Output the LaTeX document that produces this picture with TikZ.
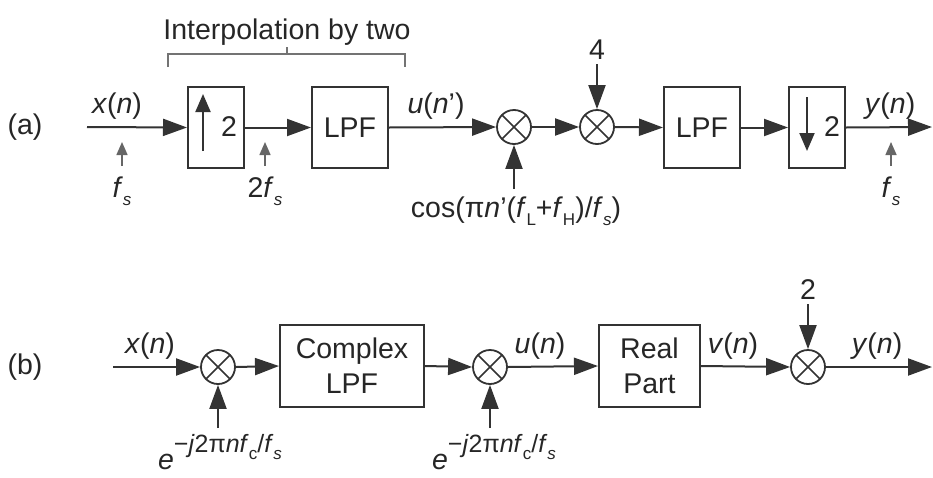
\documentclass[tikz,border=0pt]{standalone}
\usepackage{fontspec}
\setmainfont{Liberation Sans}
\usetikzlibrary{arrows.meta}
\newcommand\mysub[1]{\raisebox{-0.5ex}{\fontsize{17}{17}\selectfont #1}}
\newcommand\mysup[1]{\raisebox{1.1ex}{\fontsize{25}{25}\selectfont #1}}
\newcommand\iv[1]{\textit{#1}}
\begin{document}
\begin{tikzpicture}[x=1pt,y=-1pt,
  every node/.style={font=\fontsize{28.5}{35}\selectfont, text=black!85, inner sep=0pt},
  blk/.style={draw=black!80, line width=2pt, minimum height=81pt, align=center},
  mix/.style={draw=black!80, line width=1.8pt, circle, minimum size=34pt,
    path picture={\draw[black!80, line width=1.6pt]
      (path picture bounding box.north west) -- (path picture bounding box.south east)
      (path picture bounding box.north east) -- (path picture bounding box.south west);}},
  main/.style={draw=black!80, line width=2pt, -{Triangle[length=24pt,width=17pt]}},
  inner/.style={draw=black!80, line width=2pt, -{Triangle[length=18pt,width=15pt]}},
  small/.style={draw=black!60, line width=1.5pt, -{Triangle[length=13pt,width=11pt]}},
  brace/.style={draw=black!55, line width=1.5pt}]
\useasboundingbox (0,0) rectangle (933,477);

% ---------- row (a)
\node (la) at (25,127) {(a)};
\coordinate (ina) at (87,127);
\node[blk, minimum width=56pt] (up2) at (216,127.5) {};
\node[blk, minimum width=76pt] (lpfa) at (350,127.5) {LPF};
\node[mix] (ma1) at (514,127) {};
\node[mix] (ma2) at (597,127) {};
\node[blk, minimum width=76pt] (lpfb) at (702,127.5) {LPF};
\node[blk, minimum width=56pt] (dn2) at (817,127.5) {};
\coordinate (outa) at (932,127);

% inside up/down boxes
\coordinate (upT) at (203,151);
\coordinate (upH) at (203,94);
\draw[inner] (upT) -- (upH);
\node (up2n) at (229,127) {2};
\coordinate (dnT) at (807,97);
\coordinate (dnH) at (807,151);
\draw[inner] (dnT) -- (dnH);
\node (dn2n) at (832,127) {2};

\draw[main] (ina) -- (up2.west);
\draw[main] (up2.east) -- (lpfa.west);
\draw[main] (lpfa.east) -- (ma1.west);
\draw[main] (ma1.east) -- (ma2.west);
\draw[main] (ma2.east) -- (lpfb.west);
\draw[main] (lpfb.east) -- (dn2.west);
\draw[main] (dn2.east) -- (outa);

\node (xna) at (117,106) {\iv{x}(\iv{n})};
\node (una) at (436,106) {\iv{u}(\iv{n}')};
\node (yna) at (890,106) {\iv{y}(\iv{n})};

% sampling-rate marks
\node (fsa) at (122,191) {\iv{f}\mysub{\iv{s}}};
\coordinate (fsaT) at (122,166);
\coordinate (fsaH) at (122,142);
\draw[small] (fsaT) -- (fsaH);
\node (fsb) at (265,191) {2\iv{f}\mysub{\iv{s}}};
\coordinate (fsbT) at (265,166);
\coordinate (fsbH) at (265,142);
\draw[small] (fsbT) -- (fsbH);
\node (fsc) at (891,191) {\iv{f}\mysub{\iv{s}}};
\coordinate (fscT) at (891,166);
\coordinate (fscH) at (891,142);
\draw[small] (fscT) -- (fscH);

% gains / oscillator
\node (four) at (597,50) {4};
\coordinate (fourT) at (597,64);
\draw[main] (fourT) -- (ma2.north);
\node (cosl) at (516,211) {cos(π\iv{n}'(\iv{f}\mysub{L}+\iv{f}\mysub{H})/\iv{f}\mysub{\iv{s}})};
\coordinate (cosT) at (514,189);
\draw[main] (cosT) -- (ma1.south);

% bracket
\coordinate (brL) at (168,67);
\coordinate (brLt) at (168,54);
\coordinate (brR) at (405,67);
\coordinate (brRt) at (405,54);
\coordinate (brM) at (287,54);
\coordinate (brMt) at (287,47);
\draw[brace] (brL) -- (brLt) -- (brRt) -- (brR);
\draw[brace] (brM) -- (brMt);
\node (interp) at (287,32) {Interpolation by two};

% ---------- row (b)
\node (lb) at (25,367) {(b)};
\coordinate (inb) at (113,367);
\node[mix] (mb1) at (218,367) {};
\node[blk, minimum width=144pt, minimum height=82pt] (clpf) at (352,366) {Complex\\LPF};
\node[mix] (mb2) at (490,367) {};
\node[blk, minimum width=101pt, minimum height=82pt] (real) at (649.5,366) {Real\\Part};
\node[mix] (mb3) at (808,367) {};
\coordinate (outb) at (932,367);

\draw[main] (inb) -- (mb1.west);
\draw[main] (mb1.east) -- (clpf.west);
\draw[main] (clpf.east) -- (mb2.west);
\draw[main] (mb2.east) -- (real.west);
\draw[main] (real.east) -- (mb3.west);
\draw[main] (mb3.east) -- (outb);

\node (xnb) at (150,346) {\iv{x}(\iv{n})};
\node (unb) at (540,346) {\iv{u}(\iv{n})};
\node (vnb) at (733,346) {\iv{v}(\iv{n})};
\node (ynb) at (877,346) {\iv{y}(\iv{n})};

\node (two) at (808,290) {2};
\coordinate (twoT) at (808,304);
\draw[main] (twoT) -- (mb3.north);

\node[anchor=base] (e1) at (220,469) {\iv{e}\mysup{−\iv{j}2π\iv{nf}\mysub{c}/\iv{f}\mysub{\iv{s}}}};
\coordinate (e1T) at (218,428);
\draw[main] (e1T) -- (mb1.south);
\node[anchor=base] (e2) at (494,469) {\iv{e}\mysup{−\iv{j}2π\iv{nf}\mysub{c}/\iv{f}\mysub{\iv{s}}}};
\coordinate (e2T) at (490,428);
\draw[main] (e2T) -- (mb2.south);
\end{tikzpicture}
\end{document}
